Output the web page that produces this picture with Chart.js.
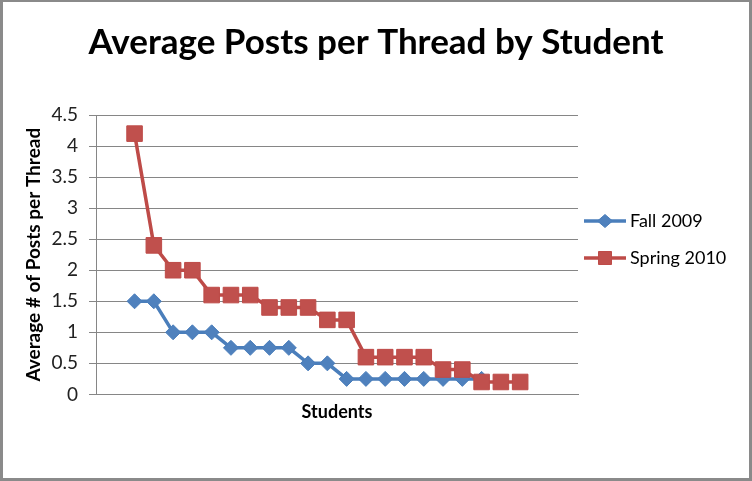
<!DOCTYPE html>
<html><head><meta charset="utf-8">
<script src="https://cdn.jsdelivr.net/npm/chart.js@4.4.1/dist/chart.umd.min.js"></script>
<style>
html,body{margin:0;padding:0;background:#fff;}
#wrap{position:absolute;left:0;top:0;width:752px;height:481px;box-sizing:border-box;border:3px solid #8a8a8a;border-top-width:2px;background:#fff;}
canvas{display:block;}
</style></head><body>
<div id="wrap"><canvas id="c" width="746" height="476"></canvas></div>
<script>
// ---- data ----
const seriesNames = ['Fall 2009', 'Spring 2010'];
const fallStudents = [1,2,3,4,5,6,7,8,9,10,11,12,13,14,15,16,17,18,19];
const fall2009 = [1.5,1.5,1,1,1,0.75,0.75,0.75,0.75,0.5,0.5,0.25,0.25,0.25,0.25,0.25,0.25,0.25,0.25];
const springStudents = [1,2,3,4,5,6,7,8,9,10,11,12,13,14,15,16,17,18,19,20,21];
const spring2010 = [4.2,2.4,2,2,1.6,1.6,1.6,1.4,1.4,1.4,1.2,1.2,0.6,0.6,0.6,0.6,0.4,0.4,0.2,0.2,0.2];
const yTickLabels = ['0','0.5','1','1.5','2','2.5','3','3.5','4','4.5'];

const FONT = 'Lato';
const blueLine = '#4A7EBB', blueFill = '#4F81BD';
const redLine = '#BE4B48', redFill = '#C0504D';
const gridCol = '#868686';

function legendIcon(lineCol, fillCol, shape) {
  const c = document.createElement('canvas');
  c.width = 42; c.height = 18;
  const g = c.getContext('2d');
  g.strokeStyle = lineCol; g.lineWidth = 3.5;
  g.beginPath(); g.moveTo(0, 9); g.lineTo(42, 9); g.stroke();
  g.fillStyle = fillCol; g.strokeStyle = lineCol; g.lineWidth = 1;
  g.beginPath();
  if (shape === 'diamond') {
    g.moveTo(21, 2.5); g.lineTo(28.5, 9); g.lineTo(21, 15.5); g.lineTo(13.5, 9); g.closePath();
  } else {
    g.rect(14.5, 2.5, 13, 13);
  }
  g.fill(); g.stroke();
  return c;
}
const icons = [legendIcon(blueLine, blueFill, 'diamond'), legendIcon(redLine, redFill, 'rect')];

const placeBoxes = {
  id: 'placeBoxes',
  afterLayout(chart) {
    const lg = chart.legend;
    if (lg) {
      const w = 180, h = 100;
      lg.left = 567; lg.top = 191;
      lg.right = lg.left + w; lg.bottom = lg.top + h;
      lg.width = w; lg.height = h;
    }
    const tb = chart.titleBlock;
    if (tb) {
      tb.left = 0; tb.right = chart.width; tb.width = chart.width;
    }
  }
};

new Chart(document.getElementById('c'), {
  type: 'line',
  data: {
    datasets: [
      {
        label: seriesNames[0],
        data: fallStudents.map((s, i) => ({x: s, y: fall2009[i]})),
        borderColor: blueLine, backgroundColor: blueFill,
        borderWidth: 3.5, tension: 0,
        pointStyle: 'rectRot', pointRadius: 7.5, pointBorderWidth: 1,
        pointBackgroundColor: blueFill, pointBorderColor: blueLine,
        order: 1
      },
      {
        label: seriesNames[1],
        data: springStudents.map((s, i) => ({x: s, y: spring2010[i]})),
        borderColor: redLine, backgroundColor: redFill,
        borderWidth: 3.5, tension: 0,
        pointStyle: 'rect', pointRadius: 11, pointBorderWidth: 1,
        pointBackgroundColor: redFill, pointBorderColor: redLine,
        order: 0
      }
    ]
  },
  options: {
    responsive: false,
    animation: false,
    devicePixelRatio: 1,
    layout: {padding: {left: 0, right: 171, top: 0, bottom: 55}},
    plugins: {
      tooltip: {enabled: false},
      title: {
        display: true,
        text: 'Average Posts per Thread by Student',
        color: '#000',
        font: {family: FONT, size: 35, weight: 'bold', lineHeight: 1.2},
        padding: {top: 20, bottom: 51}
      },
      legend: {
        display: true,
        position: 'chartArea',
        align: 'start',
        labels: {
          usePointStyle: true,
          pointStyleWidth: 32,
          padding: 19,
          color: '#000',
          font: {family: FONT, size: 18},
          generateLabels(chart) {
            const items = Chart.defaults.plugins.legend.labels.generateLabels(chart);
            items.sort((a, b) => a.datasetIndex - b.datasetIndex);
            return items.map(it => Object.assign(it, {pointStyle: icons[it.datasetIndex]}));
          }
        }
      }
    },
    scales: {
      x: {
        type: 'linear',
        min: -1, max: 24,
        ticks: {display: false},
        grid: {display: false, drawTicks: false, tickLength: 0},
        border: {display: true, color: gridCol, width: 1},
        title: {
          display: true, text: 'Students', color: '#000',
          font: {family: FONT, size: 18, weight: 'bold', lineHeight: 1.2},
          padding: {top: 7, bottom: 0}
        }
      },
      y: {
        min: 0, max: 4.5,
        afterFit(scale) { scale.width = 93; },
        ticks: {
          stepSize: 0.5,
          padding: 11,
          color: '#222',
          font: {family: FONT, size: 19},
          callback: (v, i) => yTickLabels[i]
        },
        grid: {color: gridCol, lineWidth: 1, tickLength: 7, drawTicks: true},
        border: {display: true, color: gridCol, width: 1},
        title: {
          display: true, text: 'Average # of Posts per Thread', color: '#000',
          font: {family: FONT, size: 19, weight: 'bold', lineHeight: 1.2},
          padding: {top: 19.5, bottom: 0}
        }
      }
    }
  },
  plugins: [placeBoxes]
});
</script>
</body></html>
